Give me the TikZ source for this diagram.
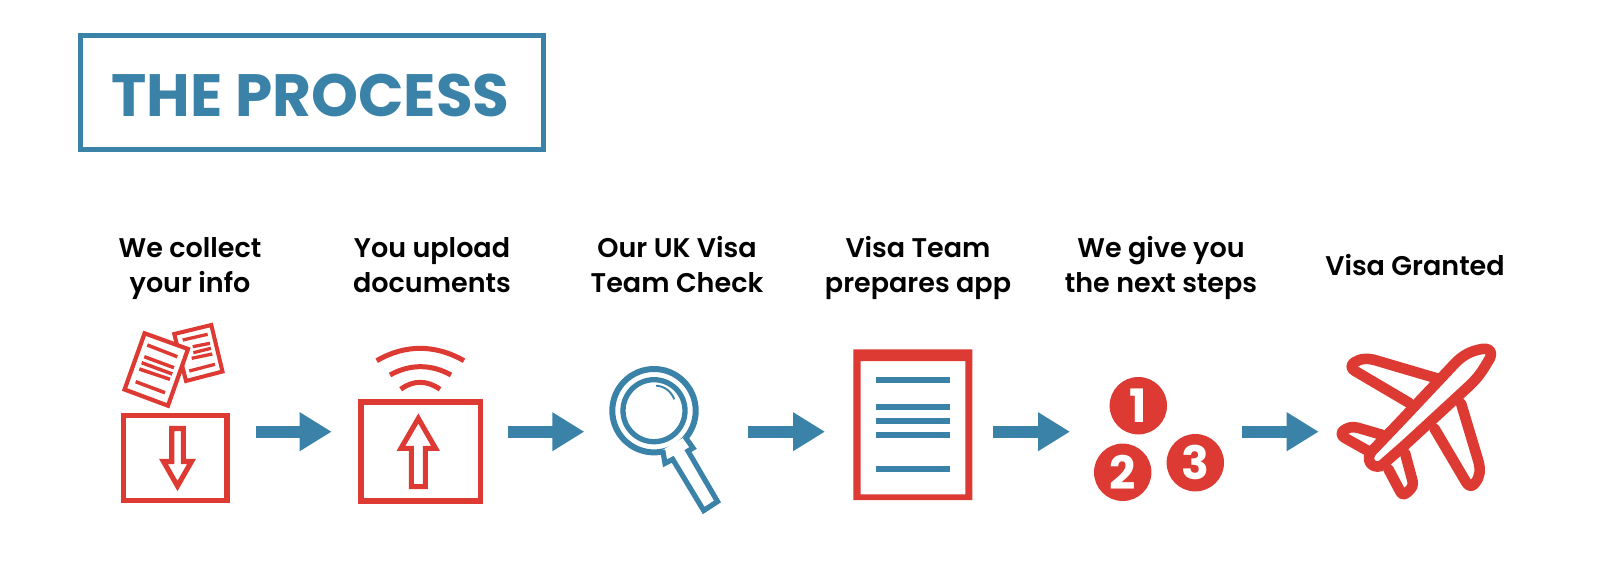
\documentclass[tikz,border=0pt]{standalone}
\usepackage{fontspec}
\setmainfont{Poppins}
\newfontfamily\semib{Poppins SemiBold}
\usetikzlibrary{arrows.meta}
\definecolor{vred}{HTML}{DC3A32}
\definecolor{vblue}{HTML}{3A82A8}
\newcommand\lstruta{\rule{0pt}{30pt}}
\newcommand\lstrutc{\rule[-9pt]{0pt}{9pt}}
\tikzset{
  x=1pt,y=-1pt,
  redline/.style={draw=vred,line width=#1,miter limit=10},
  redline/.default=5.1pt,
  blueline/.style={draw=vblue,line width=#1},
  blueline/.default=5pt,
  flowarrow/.style={draw=vblue,line width=12.4pt,-{Triangle[length=32pt,width=36.7pt]}},
  steplabel/.style={font=\semib\fontsize{27}{35}\selectfont,align=center,text=black,inner sep=0pt},
  digit/.style={circle,fill=vred,minimum size=57.4pt,inner sep=0pt,text=white,font=\bfseries\fontsize{46}{46}\selectfont},
  planeline/.style={draw=vred,line width=10.6pt,line join=round,line cap=round},
}
\begin{document}
\begin{tikzpicture}
\useasboundingbox (0,0) rectangle (1600,570);
\fill[white] (0,0) rectangle (1600,570);
% title
\draw[blueline=5.4pt] (80.7,35.7) rectangle (543.3,149.3);
\node[anchor=base,text=vblue,inner sep=0pt,font=\bfseries\fontsize{59.7}{60}\selectfont] (title) at (310.5,116.5) {THE PROCESS};
% labels
\node[steplabel] (l1) at (190,264.5) {\lstruta We collect\\your info\lstrutc};
\node[steplabel] (l2) at (432,264.5) {\lstruta You upload\\documents\lstrutc};
\node[steplabel] (l3) at (677,264.5) {\lstruta Our UK Visa\\Team Check\lstrutc};
\node[steplabel] (l4) at (918,264.5) {\lstruta Visa Team\\prepares app\lstrutc};
\node[steplabel] (l5) at (1161,264.5) {\lstruta We give you\\the next steps\lstrutc};
\node[steplabel] (l6) at (1415,264.5) {\lstruta Visa Granted\lstrutc};
% icon 1
\draw[redline=5.2pt] (123.7,415.5) rectangle (227,500.7);
\draw[redline,line join=miter] (171.7,428.5) -- (183.3,428.5) -- (183.3,461.5) -- (191.5,461.5) -- (177.5,486) -- (163.5,461.5) -- (171.7,461.5) -- cycle;
\draw[redline=4pt] (174.3,334) -- (211.3,325) -- (222.5,371.5) -- (186,381) -- cycle;
\foreach \a/\b/\c/\d in {182.7/340/207.7/334.3,192.7/346.7/210/343.3,193.3/352.7/211/348.3,191.7/358.3/212.3/354,189.3/371/215/364.3}
  \draw[redline=3.3pt] (\a,\b) -- (\c,\d);
\draw[redline=4.2pt,fill=white] (144.6,333.3) -- (188,349) -- (168,405.7) -- (124.6,389.5) -- cycle;
\foreach \a/\b/\c/\d in {147.3/345/177.3/356.7,144.3/356.7/174/367.7,141.7/362.7/172.3/374,139.3/369/170/379.3,135.7/381.7/165/392.7}
  \draw[redline=3.5pt] (\a,\b) -- (\c,\d);
% icon 2
\draw[redline=5.4pt] (360.8,401.8) rectangle (480.2,500.8);
\draw[redline,line join=miter] (411.3,486.6) -- (425.4,486.6) -- (425.4,448.3) -- (435.5,448.3) -- (418.3,418.5) -- (401,448.3) -- (411.3,448.3) -- cycle;
\draw[redline=5pt] (376.7,360.7) .. controls (405,344.2) and (435,344.2) .. (464,360.7);
\draw[redline=5pt] (390,375) .. controls (410,363.9) and (431,363.9) .. (451,375);
\draw[redline=5pt] (400.7,389.3) .. controls (413,380) and (427,380) .. (440,389.3);
% icon 3
\draw[blueline=6pt] (654,410.7) circle[radius=41.7];
\draw[blueline=5.3pt] (654,410.7) circle[radius=31];
\draw[blueline=1.9pt] (656,385.7) .. controls (664,386) and (671,391) .. (674.3,399.3);
\draw[blueline=5.2pt,fill=white,line join=miter] (662.7,450) -- (665,463.3) -- (672.7,459.3) -- (703.7,510.5) -- (717.5,501.5) -- (688,451) -- (693,448) -- (685,436.7);
% icon 4
\fill[vred,even odd rule] (853.3,349.3) rectangle (972.3,500) (860.7,361) rectangle (965.3,494.3);
\foreach \y in {380.3,407,421.3,435.3,469}
  \draw[blueline=5.7pt] (875.7,\y) -- (949.7,\y);
% icon 5
\node[digit] (n1) at (1138.3,405.7) {1};
\node[digit] (n2) at (1122.7,472.3) {2};
\node[digit] (n3) at (1195.3,462.7) {3};
% icon 6
\draw[planeline] (1409.3,403) -- (1355,371) .. controls (1349,367) and (1352,364) .. (1355,362) .. controls (1361,358) and (1369,358) .. (1378,361) -- (1436.7,378.3);
\draw[planeline] (1369,451.5) -- (1345,438) .. controls (1339,434) and (1342,431) .. (1346,429) .. controls (1351,426) and (1356,427) .. (1362,429) -- (1386,436);
\draw[planeline] (1434.3,428.3) -- (1466,482) .. controls (1469,487) and (1472,487) .. (1475,483) .. controls (1480,477) and (1481,470) .. (1478,460) -- (1461,403.3);
\draw[planeline] (1388.3,469) -- (1400,491) .. controls (1402,495) and (1404,495) .. (1407,492.5) .. controls (1412,488) and (1414,486) .. (1412,479) -- (1405,453);
\draw[planeline,fill=white] (1400,421.7) -- (1372,451) .. controls (1365,459) and (1371,469) .. (1381,466) -- (1405,445) -- (1468.3,386.7) .. controls (1480,376) and (1484,368) .. (1490,358) .. controls (1493,350) and (1488,348) .. (1482,349) .. controls (1470,351) and (1462,356) .. (1455,363.3) -- cycle;
% arrows
\coordinate (a1s) at (255.7,431.7); \coordinate (a1e) at (331.7,431.7);
\coordinate (a2s) at (507.7,431.7); \coordinate (a2e) at (584.3,431.7);
\coordinate (a3s) at (748.4,431.7); \coordinate (a3e) at (825,431.7);
\coordinate (a4s) at (993.3,431.7); \coordinate (a4e) at (1070,431.7);
\coordinate (a5s) at (1242.3,431.7); \coordinate (a5e) at (1318.7,431.7);
\foreach \i in {1,...,5} \draw[flowarrow] (a\i s) -- (a\i e);
\end{tikzpicture}
\end{document}
